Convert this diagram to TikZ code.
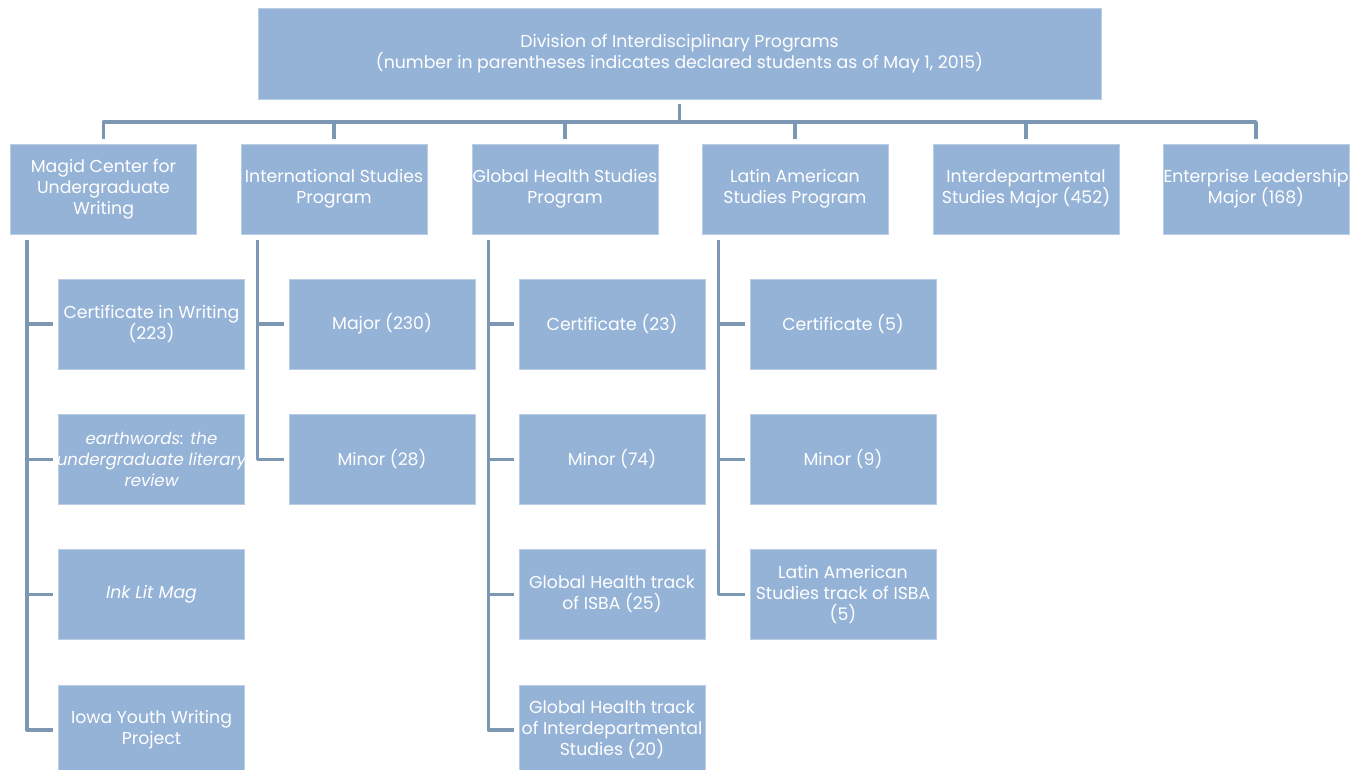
\documentclass[tikz,border=0pt]{standalone}
\usepackage{fontspec}
\setmainfont{Poppins}
\definecolor{boxfill}{HTML}{95B3D7}
\definecolor{boxline}{HTML}{B9CDE5}
\definecolor{conncol}{HTML}{7B97B1}
\newcommand{\mkl}[1]{\makebox[0pt]{#1}}
\begin{document}
\begin{tikzpicture}[x=1pt,y=1pt,
  box/.style={rectangle, fill=boxfill, draw=boxline, line width=0.8pt, minimum width=186pt, minimum height=90pt, inner sep=0pt, align=center, text=white, font=\fontsize{17.3}{21}\selectfont},
  conn/.style={draw=conncol, line width=3.6pt, line join=round}]
\useasboundingbox (0,0) rectangle (1361,-770);
\node[box, minimum width=843pt, minimum height=91pt] (top) at (679.5,-53.5) {Division of Interdisciplinary Programs\\(number in parentheses indicates declared students as of May 1, 2015)};
\node[box] (c1) at (103.5,-189) {Magid Center for\\Undergraduate\\Writing};
\node[box] (c2) at (334,-189) {\mkl{International Studies}\\\mkl{Program}};
\node[box] (c3) at (565,-189) {\mkl{Global Health Studies}\\\mkl{Program}};
\node[box] (c4) at (795,-189) {Latin American\\Studies Program};
\node[box] (c5) at (1026,-189) {\mkl{Interdepartmental}\\\mkl{Studies Major (452)}};
\node[box] (c6) at (1256,-189) {\mkl{Enterprise Leadership}\\\mkl{Major (168)}};
% column 1
\node[box] (s11) at (151.5,-324) {\mkl{Certificate in Writing}\\\mkl{(223)}};
\node[box, font=\fontsize{16.6}{21}\selectfont\itshape] (s12) at (151.5,-459.5) {\mkl{earthwords: the}\\\mkl{undergraduate literary}\\\mkl{review}};
\node[box, font=\fontsize{17.3}{21}\selectfont\itshape] (s13) at (151.5,-594.5) {Ink Lit Mag};
\node[box] (s14) at (151.5,-730) {Iowa Youth Writing\\Project};
% column 2
\node[box] (s21) at (382,-324) {Major (230)};
\node[box] (s22) at (382,-459.5) {Minor (28)};
% column 3
\node[box] (s31) at (612,-324) {Certificate (23)};
\node[box] (s32) at (612,-459.5) {Minor (74)};
\node[box] (s33) at (612,-594.5) {\mkl{Global Health track}\\\mkl{of ISBA (25)}};
\node[box] (s34) at (612,-730) {\mkl{Global Health track}\\\mkl{of Interdepartmental}\\\mkl{Studies (20)}};
% column 4
\node[box] (s41) at (843,-324) {Certificate (5)};
\node[box] (s42) at (843,-459.5) {Minor (9)};
\node[box] (s43) at (843,-594.5) {\mkl{Latin American}\\\mkl{Studies track of ISBA}\\\mkl{(5)}};
% top connectors
\coordinate (bus) at (0,-122);
\draw[conn] ([yshift=-5pt]top.south) -- (top.south |- bus);
\draw[conn] ([yshift=5pt]c1.north) -- (c1.north |- bus) -- (c6.north |- bus) -- ([yshift=5pt]c6.north);
\foreach \c in {c2,c3,c4,c5} {
  \draw[conn] (\c.north |- bus) -- ([yshift=5pt]\c.north);
}
% sub connectors
\coordinate (v1) at ([xshift=17pt,yshift=-6pt]c1.south west);
\coordinate (v2) at ([xshift=17pt,yshift=-6pt]c2.south west);
\coordinate (v3) at ([xshift=17pt,yshift=-6pt]c3.south west);
\coordinate (v4) at ([xshift=17pt,yshift=-6pt]c4.south west);
\draw[conn] (v1) |- ([xshift=-5pt]s14.west);
\foreach \s in {s11,s12,s13} { \draw[conn] (v1 |- \s.west) -- ([xshift=-5pt]\s.west); }
\draw[conn] (v2) |- ([xshift=-5pt]s22.west);
\draw[conn] (v2 |- s21.west) -- ([xshift=-5pt]s21.west);
\draw[conn] (v3) |- ([xshift=-5pt]s34.west);
\foreach \s in {s31,s32,s33} { \draw[conn] (v3 |- \s.west) -- ([xshift=-5pt]\s.west); }
\draw[conn] (v4) |- ([xshift=-5pt]s43.west);
\foreach \s in {s41,s42} { \draw[conn] (v4 |- \s.west) -- ([xshift=-5pt]\s.west); }
\end{tikzpicture}
\end{document}
